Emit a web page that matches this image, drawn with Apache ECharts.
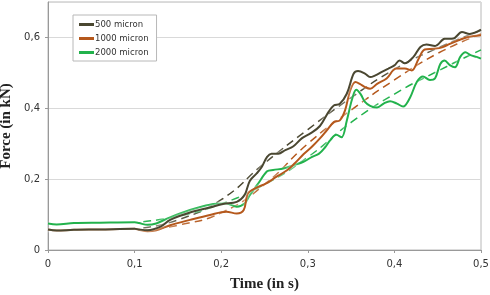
<!DOCTYPE html>
<html>
<head>
<meta charset="utf-8">
<script src="https://cdn.jsdelivr.net/npm/echarts@6/dist/echarts.min.js"></script>
<style>
  html, body { margin: 0; padding: 0; background: #fff; }
  #forceChart { width: 490px; height: 295px; }
</style>
</head>
<body>
<div id="forceChart"></div>
<script>
// measured curves, [time (s), force (kN)]
const legendNames = ['500 micron', '1000 micron', '2000 micron'];
const lineColors = ['#4a4731', '#b5581c', '#22b24c'];

const force500 = [[0,0.058],[0.01,0.055],[0.03,0.057],[0.06,0.058],[0.1,0.06],[0.105,0.058],[0.115,0.056],[0.13,0.066],
  [0.141,0.085],[0.164,0.106],[0.187,0.12],[0.202,0.13],[0.218,0.136],[0.227,0.155],[0.233,0.195],[0.241,0.216],
  [0.247,0.235],[0.253,0.263],[0.258,0.272],[0.266,0.272],[0.274,0.282],[0.283,0.292],[0.293,0.315],[0.303,0.329],
  [0.314,0.35],[0.324,0.39],[0.33,0.408],[0.337,0.413],[0.345,0.441],[0.353,0.498],[0.358,0.505],[0.366,0.498],
  [0.372,0.488],[0.378,0.493],[0.385,0.502],[0.393,0.512],[0.4,0.521],[0.406,0.535],[0.412,0.527],[0.422,0.545],
  [0.43,0.573],[0.437,0.58],[0.447,0.576],[0.458,0.596],[0.468,0.597],[0.478,0.615],[0.487,0.61],[0.5,0.622]];

const force1000 = [[0,0.058],[0.01,0.055],[0.03,0.057],[0.06,0.058],[0.1,0.06],[0.105,0.057],[0.115,0.053],[0.125,0.056],
  [0.141,0.07],[0.164,0.085],[0.187,0.099],[0.206,0.108],[0.218,0.103],[0.226,0.113],[0.231,0.16],[0.241,0.176],
  [0.252,0.188],[0.264,0.207],[0.276,0.225],[0.285,0.245],[0.295,0.27],[0.305,0.292],[0.314,0.315],[0.322,0.338],
  [0.33,0.361],[0.337,0.366],[0.343,0.394],[0.349,0.451],[0.355,0.474],[0.36,0.469],[0.366,0.46],[0.372,0.455],
  [0.38,0.469],[0.391,0.484],[0.402,0.512],[0.412,0.512],[0.42,0.507],[0.428,0.54],[0.435,0.566],[0.445,0.568],
  [0.455,0.572],[0.464,0.582],[0.474,0.592],[0.485,0.601],[0.5,0.606]];

const force2000 = [[0,0.075],[0.01,0.072],[0.03,0.076],[0.06,0.077],[0.1,0.078],[0.105,0.076],[0.115,0.071],[0.125,0.075],
  [0.141,0.092],[0.164,0.113],[0.187,0.128],[0.206,0.131],[0.218,0.122],[0.227,0.131],[0.233,0.155],[0.242,0.185],
  [0.253,0.222],[0.26,0.226],[0.272,0.23],[0.283,0.239],[0.295,0.249],[0.305,0.263],[0.313,0.272],[0.32,0.29],
  [0.326,0.31],[0.333,0.325],[0.339,0.318],[0.345,0.365],[0.351,0.425],[0.356,0.452],[0.361,0.44],[0.366,0.418],
  [0.372,0.407],[0.38,0.402],[0.388,0.414],[0.395,0.42],[0.403,0.413],[0.41,0.405],[0.418,0.43],[0.426,0.475],
  [0.433,0.49],[0.441,0.48],[0.447,0.485],[0.453,0.525],[0.458,0.535],[0.464,0.522],[0.47,0.516],[0.476,0.545],
  [0.482,0.558],[0.488,0.55],[0.495,0.545],[0.5,0.54]];

// dashed trend curves
const trend500 = [[0.11,0.062],[0.15,0.085],[0.2,0.142],[0.25,0.245],[0.3,0.34],[0.35,0.43],[0.4,0.51],[0.45,0.57],[0.5,0.62]];
const trend1000 = [[0.11,0.055],[0.15,0.07],[0.2,0.105],[0.25,0.185],[0.3,0.3],[0.35,0.395],[0.4,0.48],[0.45,0.555],[0.5,0.61]];
const trend2000 = [[0.11,0.08],[0.15,0.095],[0.2,0.13],[0.25,0.185],[0.3,0.262],[0.35,0.36],[0.4,0.44],[0.45,0.505],[0.5,0.565]];

const xTicks = [0, 0.1, 0.2, 0.3, 0.4, 0.5];
const yTicks = [0, 0.2, 0.4, 0.6];

const chart = echarts.init(document.getElementById('forceChart'));
const comma = v => String(+v.toFixed(2)).replace('.', ',');

const solid = (name, data, color) => ({
  name: name,
  type: 'line',
  data: data,
  smooth: 0.35,
  showSymbol: false,
  z: 3,
  lineStyle: { color: color, width: 2, shadowColor: '#ffffff', shadowBlur: 3 },
  itemStyle: { color: color }
});
const dashed = (name, data, color) => ({
  name: name,
  type: 'line',
  data: data,
  smooth: true,
  showSymbol: false,
  z: 2,
  lineStyle: { color: color, width: 1.5, type: [8, 5] }
});

chart.setOption({
  animation: false,
  grid: {
    left: 48, right: 9, top: 2, bottom: 45,
    outerBoundsMode: 'none',
    show: true, borderColor: '#b8b8b8', borderWidth: 1
  },
  legend: {
    data: legendNames,
    orient: 'vertical',
    left: 73, top: 15,
    padding: [5, 8, 4, 6],
    itemGap: 5,
    itemWidth: 15, itemHeight: 3,
    icon: 'rect',
    borderColor: '#b8b8b8', borderWidth: 1,
    backgroundColor: '#fff',
    textStyle: { fontFamily: 'DejaVu Sans', fontSize: 8.5, color: '#333', padding: [0, 0, 0, -4] }
  },
  xAxis: {
    type: 'value',
    min: 0, max: 0.5, interval: 0.1,
    name: 'Time (in s)',
    nameLocation: 'middle',
    nameGap: 27,
    nameTextStyle: { fontFamily: 'Liberation Serif', fontWeight: 'bold', fontSize: 15, color: '#222' },
    axisLine: { lineStyle: { color: '#999' } },
    axisTick: { show: true, length: 3, lineStyle: { color: '#999' } },
    axisLabel: {
      fontFamily: 'DejaVu Sans', fontSize: 10, color: '#333', margin: 9,
      formatter: v => xTicks.some(t => Math.abs(t - v) < 1e-6) ? comma(v) : ''
    },
    splitLine: { show: false }
  },
  yAxis: {
    type: 'value',
    min: 0, max: 0.7, interval: 0.2,
    name: 'Force (in kN)',
    nameLocation: 'middle',
    nameGap: 29,
    nameTextStyle: { fontFamily: 'Liberation Serif', fontWeight: 'bold', fontSize: 15, color: '#222' },
    axisLine: { show: true, lineStyle: { color: '#999' } },
    axisTick: { show: true, length: 3, lineStyle: { color: '#999' } },
    axisLabel: {
      fontFamily: 'DejaVu Sans', fontSize: 10, color: '#333', margin: 8,
      showMaxLabel: false,
      formatter: v => yTicks.some(t => Math.abs(t - v) < 1e-6) ? comma(v) : ''
    },
    splitLine: { lineStyle: { color: '#d9d9d9' } }
  },
  series: [
    dashed('trend 500', trend500, lineColors[0]),
    dashed('trend 1000', trend1000, lineColors[1]),
    dashed('trend 2000', trend2000, lineColors[2]),
    solid(legendNames[2], force2000, lineColors[2]),
    solid(legendNames[1], force1000, lineColors[1]),
    solid(legendNames[0], force500, lineColors[0])
  ]
});
</script>
</body>
</html>
